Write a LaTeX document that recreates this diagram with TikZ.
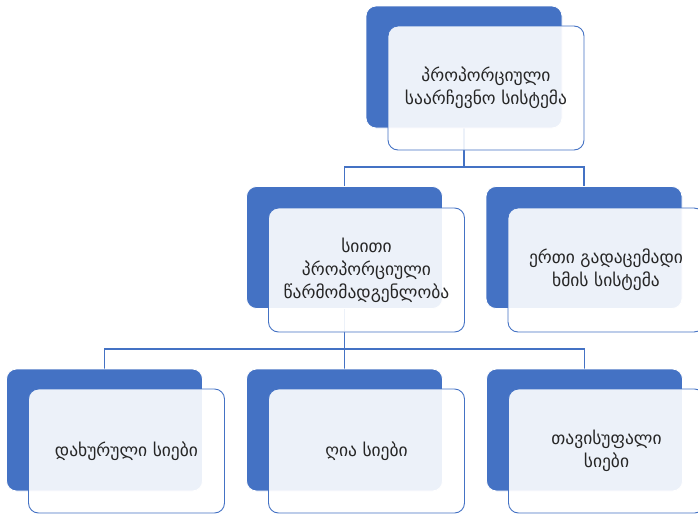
\documentclass[tikz,border=0pt]{standalone}
\usepackage{fontspec}
\usetikzlibrary{calc,backgrounds}
\newfontfamily\geofont{DejaVu Sans}
\definecolor{accent}{HTML}{4472C4}
\definecolor{txt}{HTML}{262626}
\begin{document}
\begin{tikzpicture}[x=1pt,y=-1pt,
  backbox/.style={draw=white,line width=0.8pt,fill=accent,rounded corners=10pt,minimum width=196pt,minimum height=122pt,inner sep=0pt},
  frontbox/.style={draw=accent,line width=0.9pt,fill=white,fill opacity=0.9,text opacity=1,rounded corners=10pt,minimum width=196pt,minimum height=124pt,inner sep=0pt,align=center,text=txt,font=\geofont\fontsize{17.5}{23}\selectfont},
  link/.style={draw=accent,line width=1.3pt}]
\useasboundingbox (0,0) rectangle (698,514);
\clip (0,0) rectangle (698,514);
% positions of the blue back boxes
\coordinate (pT) at (464,67);
\coordinate (pA) at (344.5,247.5);
\coordinate (pB) at (584,247.5);
\coordinate (pC) at (104.5,430);
\coordinate (pD) at (344.5,430);
\coordinate (pE) at (584.5,430);
% junctions
\coordinate (j1) at (464,167);
\coordinate (j2) at (344.5,349);
\node[backbox] (bT) at (pT) {};
\node[backbox] (bA) at (pA) {};
\node[backbox] (bB) at (pB) {};
\node[backbox] (bC) at (pC) {};
\node[backbox] (bD) at (pD) {};
\node[backbox] (bE) at (pE) {};
\begin{pgfonlayer}{background}
\path[link] (bT.south) -- (j1);
\path[link] (j1) -| (bA.north);
\path[link] (j1) -| (bB.north);
\path[link] (bA.south) -- (j2);
\path[link] (j2) -| (bC.north);
\path[link] (j2) -| (bD.north);
\path[link] (j2) -| (bE.north);
\end{pgfonlayer}
% front boxes
\node[frontbox] (fT) at ($(pT)+(22,21)$) {პროპორციული\\საარჩევნო სისტემა};
\node[frontbox] (fA) at ($(pA)+(22,22.5)$) {სიითი\\პროპორციული\\წარმომადგენლობა};
\node[frontbox] (fB) at ($(pB)+(22,22.5)$) {ერთი გადაცემადი\\ხმის სისტემა};
\node[frontbox] (fC) at ($(pC)+(22,21)$) {დახურული სიები};
\node[frontbox] (fD) at ($(pD)+(22,21)$) {ღია სიები};
\node[frontbox] (fE) at ($(pE)+(22,21)$) {თავისუფალი\\სიები};
\end{tikzpicture}
\end{document}
